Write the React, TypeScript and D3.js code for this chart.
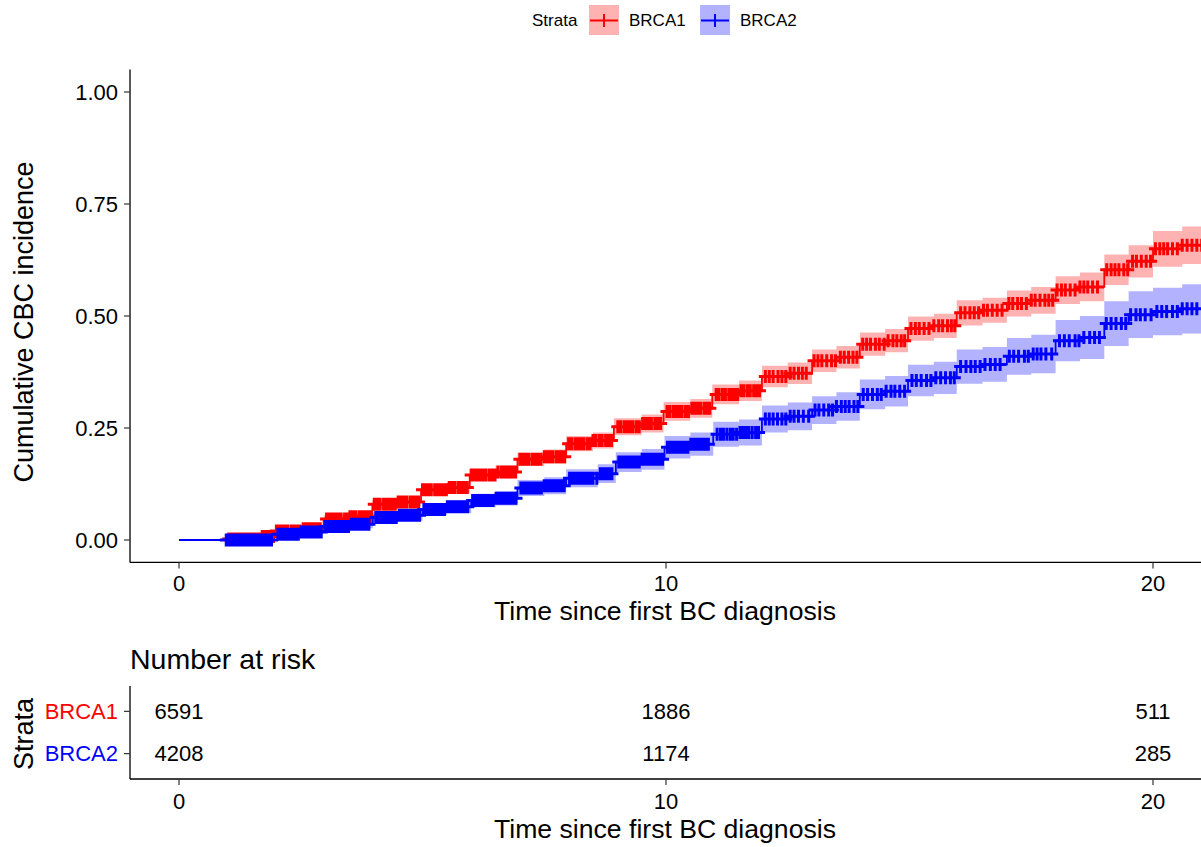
import * as d3 from "d3";

// strata and colours
const strata = ["BRCA1", "BRCA2"];
const strataColors = ["#FF0000", "#0000FF"];

// BRCA1: event times, cumulative incidence and 95% CI
const brca1Time = [0, 0.98, 1.7, 1.97, 2.5, 2.97, 3.5, 3.97, 4.5, 4.97, 5.5, 5.97, 6.5, 6.95, 7.5, 7.95, 8.5, 8.93, 9.5, 9.95, 10.5, 10.95, 11.5, 11.97, 12.5, 13.0, 13.5, 13.98, 14.5, 14.97, 15.5, 15.97, 16.5, 17.0, 17.5, 18.0, 18.5, 19.0, 19.5, 20.0, 20.6];
const brca1Est = [0, 0.002, 0.008, 0.02, 0.025, 0.047, 0.052, 0.08, 0.085, 0.112, 0.117, 0.145, 0.152, 0.18, 0.186, 0.215, 0.222, 0.253, 0.26, 0.287, 0.294, 0.325, 0.333, 0.365, 0.372, 0.4, 0.408, 0.437, 0.445, 0.472, 0.478, 0.507, 0.513, 0.528, 0.535, 0.558, 0.565, 0.603, 0.622, 0.65, 0.658];
const brca1Lower = [0, 0.0, 0.004, 0.014, 0.018, 0.039, 0.043, 0.07, 0.074, 0.1, 0.105, 0.132, 0.138, 0.165, 0.17, 0.198, 0.204, 0.234, 0.24, 0.266, 0.273, 0.303, 0.31, 0.341, 0.348, 0.375, 0.383, 0.411, 0.419, 0.445, 0.451, 0.479, 0.485, 0.499, 0.505, 0.527, 0.533, 0.569, 0.586, 0.61, 0.616];
const brca1Upper = [0, 0.004, 0.012, 0.026, 0.032, 0.055, 0.061, 0.09, 0.096, 0.124, 0.129, 0.158, 0.166, 0.195, 0.202, 0.232, 0.24, 0.272, 0.28, 0.308, 0.315, 0.347, 0.356, 0.389, 0.396, 0.425, 0.433, 0.463, 0.471, 0.499, 0.505, 0.535, 0.541, 0.557, 0.565, 0.589, 0.597, 0.637, 0.658, 0.69, 0.7];
const brca1Censor = [
  1.02, 1.07, 1.13, 1.19, 1.25, 1.3, 1.36, 1.42, 1.48, 1.53, 1.59, 1.65, 1.71, 1.77, 1.83, 1.88, 1.94,
  2.0, 2.06, 2.12, 2.18, 2.24, 2.31, 2.36, 2.42, 2.48, 2.55, 2.6, 2.66, 2.72, 2.78, 2.84, 2.9,
  3.03, 3.09, 3.15, 3.21, 3.27, 3.33, 3.4, 3.45, 3.51, 3.57, 3.63, 3.7, 3.76, 3.82, 3.88, 3.93,
  4.01, 4.07, 4.13, 4.2, 4.26, 4.32, 4.38, 4.44, 4.5, 4.56, 4.62, 4.68, 4.75, 4.81, 4.87, 4.92,
  5.0, 5.06, 5.12, 5.18, 5.25, 5.31, 5.37, 5.43, 5.49, 5.55, 5.61, 5.67, 5.74, 5.8, 5.86, 5.92,
  6.0, 6.06, 6.12, 6.18, 6.24, 6.3, 6.37, 6.43, 6.49, 6.55, 6.62, 6.68, 6.74, 6.8, 6.86, 6.91,
  7.0, 7.06, 7.12, 7.18, 7.25, 7.31, 7.37, 7.43, 7.5, 7.56, 7.62, 7.68, 7.75, 7.81, 7.87, 7.92,
  8.0, 8.06, 8.13, 8.19, 8.25, 8.31, 8.38, 8.44, 8.5, 8.56, 8.63, 8.69, 8.76, 8.82, 8.88,
  9.01, 9.07, 9.14, 9.2, 9.26, 9.32, 9.39, 9.45, 9.52, 9.58, 9.64, 9.7, 9.77, 9.83, 9.89,
  10.02, 10.08, 10.15, 10.21, 10.27, 10.33, 10.4, 10.46, 10.53, 10.59, 10.65, 10.71, 10.78, 10.84, 10.9,
  11.03, 11.09, 11.16, 11.22, 11.29, 11.35, 11.41, 11.47, 11.54, 11.6, 11.67, 11.73, 11.8, 11.86, 11.92,
  12.04, 12.12, 12.2, 12.3, 12.38, 12.46, 12.55, 12.63, 12.72, 12.8, 12.88,
  13.04, 13.12, 13.2, 13.3, 13.4, 13.48, 13.58, 13.66, 13.75, 13.84, 13.92,
  14.04, 14.12, 14.2, 14.3, 14.38, 14.48, 14.56, 14.66, 14.74, 14.83, 14.9,
  15.03, 15.12, 15.2, 15.3, 15.4, 15.5, 15.6, 15.68, 15.78, 15.86, 15.93,
  16.05, 16.14, 16.24, 16.33, 16.42, 16.52, 16.6, 16.7, 16.8, 16.9,
  17.04, 17.12, 17.22, 17.3, 17.4, 17.5, 17.58, 17.68, 17.78, 17.86, 17.94,
  18.03, 18.12, 18.2, 18.3, 18.4, 18.5, 18.58, 18.66, 18.76, 18.86,
  19.05, 19.14, 19.22, 19.3, 19.4, 19.48, 19.58, 19.66, 19.76, 19.86, 19.95,
  20.05, 20.14, 20.22, 20.3, 20.4, 20.5, 20.6, 20.7, 20.8, 20.9, 21.0,
];

// BRCA2
const brca2Time = [0, 1.93, 2.5, 2.96, 3.5, 3.98, 4.5, 5.0, 5.5, 6.0, 6.5, 6.95, 7.5, 7.95, 8.6, 8.97, 9.5, 9.97, 10.5, 10.97, 11.5, 11.97, 12.5, 13.0, 13.5, 13.98, 14.5, 14.97, 15.5, 15.97, 16.5, 17.0, 17.5, 18.0, 18.5, 19.0, 19.5, 20.0, 20.6];
const brca2Est = [0, 0.013, 0.018, 0.03, 0.035, 0.05, 0.055, 0.068, 0.074, 0.088, 0.093, 0.116, 0.121, 0.138, 0.148, 0.174, 0.18, 0.207, 0.214, 0.236, 0.24, 0.27, 0.276, 0.29, 0.298, 0.325, 0.332, 0.356, 0.362, 0.387, 0.392, 0.41, 0.415, 0.445, 0.452, 0.483, 0.503, 0.51, 0.516];
const brca2Lower = [0, 0.008, 0.012, 0.022, 0.026, 0.039, 0.043, 0.055, 0.06, 0.073, 0.077, 0.098, 0.102, 0.118, 0.127, 0.152, 0.157, 0.182, 0.188, 0.208, 0.211, 0.24, 0.245, 0.259, 0.266, 0.292, 0.298, 0.321, 0.326, 0.349, 0.353, 0.369, 0.372, 0.399, 0.404, 0.433, 0.451, 0.457, 0.461];
const brca2Upper = [0, 0.018, 0.024, 0.038, 0.044, 0.061, 0.067, 0.081, 0.088, 0.103, 0.109, 0.134, 0.14, 0.158, 0.169, 0.196, 0.203, 0.232, 0.24, 0.264, 0.269, 0.3, 0.307, 0.321, 0.33, 0.358, 0.366, 0.391, 0.398, 0.425, 0.431, 0.451, 0.458, 0.491, 0.5, 0.533, 0.555, 0.563, 0.571];
const brca2Censor = [
  0.97, 1.03, 1.09, 1.15, 1.2, 1.26, 1.32, 1.38, 1.44, 1.5, 1.56, 1.62, 1.68, 1.74, 1.8, 1.85, 1.9,
  2.03, 2.09, 2.15, 2.21, 2.27, 2.33, 2.39, 2.45, 2.51, 2.57, 2.63, 2.69, 2.75, 2.81, 2.87, 2.92,
  3.0, 3.06, 3.12, 3.18, 3.24, 3.3, 3.36, 3.42, 3.48, 3.54, 3.6, 3.66, 3.72, 3.78, 3.84, 3.9,
  4.04, 4.1, 4.16, 4.22, 4.28, 4.34, 4.4, 4.46, 4.52, 4.58, 4.64, 4.7, 4.76, 4.82, 4.88, 4.94,
  5.03, 5.09, 5.15, 5.21, 5.27, 5.33, 5.39, 5.45, 5.51, 5.57, 5.63, 5.69, 5.75, 5.81, 5.87, 5.93,
  6.03, 6.09, 6.15, 6.21, 6.27, 6.33, 6.39, 6.45, 6.51, 6.57, 6.63, 6.69, 6.75, 6.81, 6.87, 6.92,
  7.02, 7.08, 7.14, 7.2, 7.26, 7.32, 7.38, 7.44, 7.5, 7.56, 7.62, 7.68, 7.74, 7.8, 7.86, 7.91,
  8.02, 8.08, 8.14, 8.2, 8.26, 8.32, 8.38, 8.44, 8.5, 8.58, 8.65, 8.71, 8.77, 8.83, 8.89,
  9.03, 9.09, 9.15, 9.21, 9.27, 9.33, 9.39, 9.45, 9.51, 9.57, 9.63, 9.69, 9.75, 9.81, 9.87, 9.93,
  10.03, 10.09, 10.15, 10.21, 10.27, 10.33, 10.39, 10.45, 10.51, 10.57, 10.63, 10.69, 10.75, 10.81, 10.87,
  11.05, 11.12, 11.18, 11.25, 11.32, 11.38, 11.45, 11.52, 11.58, 11.64, 11.7, 11.77, 11.84, 11.9,
  12.04, 12.12, 12.2, 12.29, 12.38, 12.46, 12.55, 12.63, 12.72, 12.82, 12.93,
  13.06, 13.14, 13.24, 13.34, 13.42, 13.5, 13.6, 13.68, 13.76, 13.86, 13.94,
  14.05, 14.14, 14.24, 14.34, 14.42, 14.52, 14.62, 14.7, 14.8, 14.9,
  15.05, 15.14, 15.24, 15.35, 15.44, 15.54, 15.64, 15.74, 15.84, 15.92,
  16.05, 16.16, 16.26, 16.35, 16.45, 16.55, 16.66, 16.76, 16.86,
  17.05, 17.14, 17.24, 17.36, 17.44, 17.54, 17.62, 17.7, 17.8, 17.92,
  18.08, 18.18, 18.28, 18.4, 18.48, 18.58, 18.7, 18.8, 18.9,
  19.04, 19.14, 19.24, 19.35, 19.44, 19.54, 19.65, 19.74, 19.84, 19.96,
  20.08, 20.18, 20.28, 20.4, 20.5, 20.6, 20.7, 20.8, 20.9, 21.02,
];

const endTime = 21.1;

// number at risk table
const riskTimes = [0, 10, 20];
const riskBRCA1 = [6591, 1886, 511];
const riskBRCA2 = [4208, 1174, 285];

const xTicks = [0, 10, 20];
const yTicks = [0, 0.25, 0.5, 0.75, 1.0];

const font = "'Liberation Sans', Arial, sans-serif";

const curves = [
  { name: strata[0], color: strataColors[0], time: brca1Time, est: brca1Est, lower: brca1Lower, upper: brca1Upper, censor: brca1Censor },
  { name: strata[1], color: strataColors[1], time: brca2Time, est: brca2Est, lower: brca2Lower, upper: brca2Upper, censor: brca2Censor },
];
const risk = [riskBRCA1, riskBRCA2];

export default function App() {
  const W = 1201;
  const H = 847;
  const panelLeft = 130;
  const panelRight = 1207;

  // main plot scales
  const x = d3.scaleLinear().domain([0, 20]).range([179, 1153]);
  const y = d3.scaleLinear().domain([0, 1]).range([540, 92]);
  const panelTop = y(1.05);
  const panelBottom = y(-0.05);

  // risk table scales
  const yr = d3.scalePoint().domain(strata).range([686, 779]).padding(0.6);
  const riskBottom = 779;

  const plus = (px: number, py: number, r: number) =>
    `M${px - r},${py}H${px + r}M${px},${py - r}V${py + r}`;

  const series = curves.map((c) => {
    const pts = c.time.map((t, i) => ({ t, e: c.est[i], lo: c.lower[i], hi: c.upper[i] }));
    const last = pts[pts.length - 1];
    pts.push({ t: endTime, e: last.e, lo: last.lo, hi: last.hi });
    const line = d3
      .line<any>()
      .x((d) => x(d.t))
      .y((d) => y(d.e))
      .curve(d3.curveStepAfter)(pts);
    const area = d3
      .area<any>()
      .x((d) => x(d.t))
      .y0((d) => y(d.lo))
      .y1((d) => y(d.hi))
      .curve(d3.curveStepAfter)(pts);
    const marks = c.censor
      .map((t) => {
        const i = d3.bisectRight(c.time, t) - 1;
        return plus(x(t), y(c.est[Math.max(0, i)]), 6.5);
      })
      .join("");
    return { ...c, line, area, marks };
  });

  return (
    <svg
      width={W}
      height={H}
      style={{ position: "absolute", left: 0, top: 0, background: "#fff" }}
      fontFamily={font}
    >
      <defs>
        <clipPath id="panel">
          <rect x={panelLeft} y={panelTop} width={panelRight - panelLeft} height={panelBottom - panelTop} />
        </clipPath>
      </defs>

      {/* legend */}
      <g>
        <text x={532} y={26} fontSize={17} fill="#000">Strata</text>
        {curves.map((c, i) => {
          const kx = 589 + i * 111;
          return (
            <g key={c.name}>
              <rect x={kx} y={5} width={30} height={30} fill={c.color} fillOpacity={0.3} />
              <path d={`M${kx + 1},20.5H${kx + 29}M${kx + 15},14V27`} stroke={c.color} strokeWidth={2} fill="none" />
              <text x={kx + 40} y={26} fontSize={17} fill="#000">{c.name}</text>
            </g>
          );
        })}
      </g>

      {/* main panel */}
      <g clipPath="url(#panel)">
        {series.map((s) => (
          <path key={s.name + "a"} d={s.area ?? ""} fill={s.color} fillOpacity={0.3} />
        ))}
        {series.map((s) => (
          <path key={s.name + "l"} d={s.line ?? ""} fill="none" stroke={s.color} strokeWidth={1.8} />
        ))}
        {series.map((s) => (
          <path key={s.name + "c"} d={s.marks} fill="none" stroke={s.color} strokeWidth={3} />
        ))}
      </g>

      {/* main axes */}
      <line x1={panelLeft} x2={panelLeft} y1={panelTop} y2={panelBottom} stroke="#000" strokeWidth={1.3} />
      <line x1={panelLeft} x2={panelRight} y1={panelBottom} y2={panelBottom} stroke="#000" strokeWidth={1.3} />
      {yTicks.map((v) => (
        <g key={v}>
          <line x1={panelLeft - 6} x2={panelLeft} y1={y(v)} y2={y(v)} stroke="#333" strokeWidth={1.2} />
          <text x={118} y={y(v) + 7.8} fontSize={22} textAnchor="end" fill="#000">
            {d3.format(".2f")(v)}
          </text>
        </g>
      ))}
      {xTicks.map((v) => (
        <g key={v}>
          <line x1={x(v)} x2={x(v)} y1={panelBottom} y2={panelBottom + 6} stroke="#333" strokeWidth={1.2} />
          <text x={x(v)} y={591} fontSize={22} textAnchor="middle" fill="#000">{v}</text>
        </g>
      ))}
      <text x={665} y={620} fontSize={26.6} textAnchor="middle" fill="#000">Time since first BC diagnosis</text>
      <text transform="translate(33,322) rotate(-90)" fontSize={27} textAnchor="middle" fill="#000">
        Cumulative CBC incidence
      </text>

      {/* risk table */}
      <text x={130} y={669} fontSize={28.5} fill="#000">Number at risk</text>
      <line x1={panelLeft} x2={panelLeft} y1={686} y2={riskBottom} stroke="#000" strokeWidth={1.3} />
      <line x1={panelLeft} x2={panelRight} y1={riskBottom} y2={riskBottom} stroke="#000" strokeWidth={1.3} />
      {strata.map((s, i) => (
        <g key={s}>
          <line x1={panelLeft - 6} x2={panelLeft} y1={yr(s)!} y2={yr(s)!} stroke="#333" strokeWidth={1.2} />
          <text x={118} y={yr(s)! + 7.8} fontSize={22} textAnchor="end" fill={strataColors[i]}>{s}</text>
          {riskTimes.map((t, j) => (
            <text key={t} x={x(t)} y={yr(s)! + 7.8} fontSize={22} textAnchor="middle" fill="#000">
              {risk[i][j]}
            </text>
          ))}
        </g>
      ))}
      {xTicks.map((v) => (
        <g key={v}>
          <line x1={x(v)} x2={x(v)} y1={riskBottom} y2={riskBottom + 6} stroke="#333" strokeWidth={1.2} />
          <text x={x(v)} y={809} fontSize={22} textAnchor="middle" fill="#000">{v}</text>
        </g>
      ))}
      <text x={665} y={838} fontSize={26.6} textAnchor="middle" fill="#000">Time since first BC diagnosis</text>
      <text transform="translate(33,734) rotate(-90)" fontSize={27} textAnchor="middle" fill="#000">Strata</text>
    </svg>
  );
}
